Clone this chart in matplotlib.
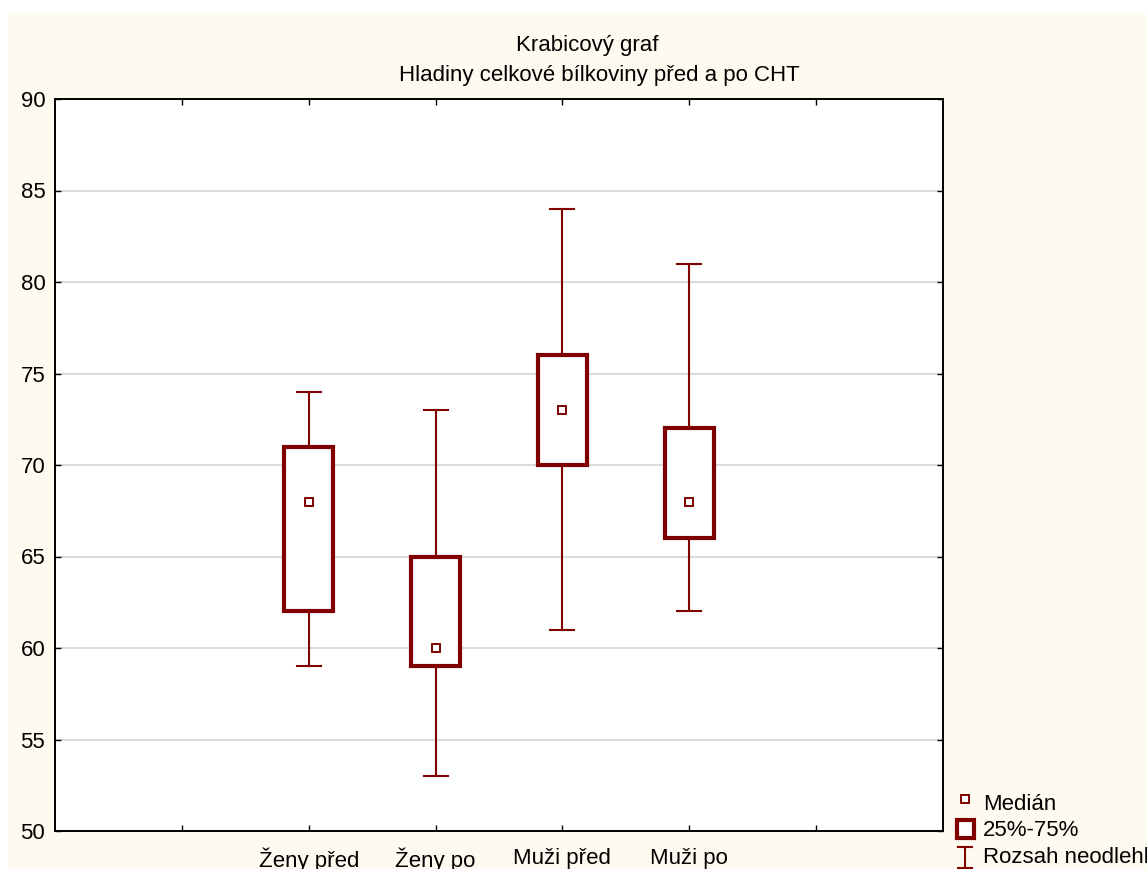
import matplotlib.pyplot as plt
import matplotlib.patches as patches
import matplotlib as mpl
from matplotlib.lines import Line2D

mpl.rcParams["font.family"] = ["Liberation Sans", "DejaVu Sans"]

groups = ["Ženy před", "Ženy po", "Muži před", "Muži po"]
mins = [59, 53, 61, 62]
q1 = [62, 59, 70, 66]
medians = [68, 60, 73, 68]
q3 = [71, 65, 76, 72]
maxs = [74, 73, 84, 81]

RED = "#800000"
CREAM = "#fffaf0"
W, H = 1147, 869
FS = 16

fig = plt.figure(figsize=(W / 100, H / 100), dpi=100)
fig.patch.set_facecolor("white")
fig.add_artist(patches.Rectangle((8 / W, 0), 1, 1 - 13 / H, transform=fig.transFigure,
                                 facecolor=CREAM, edgecolor="none", zorder=-10))

ax = fig.add_axes([55 / W, 1 - 831 / H, (943 - 55) / W, (831 - 99) / H])
ax.set_facecolor("white")
ax.set_xlim(0, 7)
ax.set_ylim(50, 90)
ax.set_yticks(range(50, 91, 5))
ax.set_xticks([1, 2, 3, 4, 5, 6])
ax.set_xticklabels([""] + groups + [""])
ax.tick_params(direction="in", top=True, right=True, length=4, width=1,
               labelsize=FS, pad=7)
ax.tick_params(axis="x", pad=12)
for s in ax.spines.values():
    s.set_linewidth(1.4)
for y in range(55, 90, 5):
    ax.axhline(y, color="#d4d4d4", linewidth=1.2, zorder=0)

bw = 0.39
cw = 0.19
for i in range(len(groups)):
    x = i + 2
    ax.plot([x, x], [mins[i], q1[i]], color=RED, lw=1.5, zorder=2)
    ax.plot([x, x], [q3[i], maxs[i]], color=RED, lw=1.5, zorder=2)
    ax.plot([x - cw / 2, x + cw / 2], [mins[i], mins[i]], color=RED, lw=1.5, zorder=2)
    ax.plot([x - cw / 2, x + cw / 2], [maxs[i], maxs[i]], color=RED, lw=1.5, zorder=2)
    ax.add_patch(patches.Rectangle((x - bw / 2, q1[i]), bw, q3[i] - q1[i],
                                   facecolor="white", edgecolor=RED, lw=3.0, zorder=3))
    ax.plot(x, medians[i], "s", ms=5.5, mfc="white", mec=RED, mew=1.4, zorder=4)

fig.text(587 / W, 1 - 46 / H, "Krabicový graf", ha="center", va="center", fontsize=FS)
fig.text(599 / W, 1 - 75 / H, "Hladiny celkové bílkoviny před a po CHT",
         ha="center", va="center", fontsize=FS)

# legend
tf = fig.transFigure
fig.add_artist(Line2D([965 / W], [1 - 799 / H], transform=tf, marker="s", ms=5.5,
                      mfc="white", mec=RED, mew=1.4, ls="none"))
fig.add_artist(patches.Rectangle((957 / W, 1 - 838 / H), 17 / W, 18 / H, transform=tf,
                                 facecolor="white", edgecolor=RED, lw=3.0))
fig.add_artist(Line2D([965 / W, 965 / W], [1 - 847 / H, 1 - 869 / H], transform=tf,
                      color=RED, lw=1.5))
fig.add_artist(Line2D([958 / W, 972 / W], [1 - 847 / H, 1 - 847 / H], transform=tf,
                      color=RED, lw=1.5))
fig.add_artist(Line2D([958 / W, 972 / W], [1 - 868 / H, 1 - 868 / H], transform=tf,
                      color=RED, lw=1.5))
fig.text(983 / W, 1 - 805 / H, "Medián", va="center", fontsize=FS)
fig.text(983 / W, 1 - 830 / H, "25%-75%", va="center", fontsize=FS)
fig.text(983 / W, 1 - 858 / H, "Rozsah neodlehlých", va="center", fontsize=FS)

fig.savefig("out.png", dpi=100)
